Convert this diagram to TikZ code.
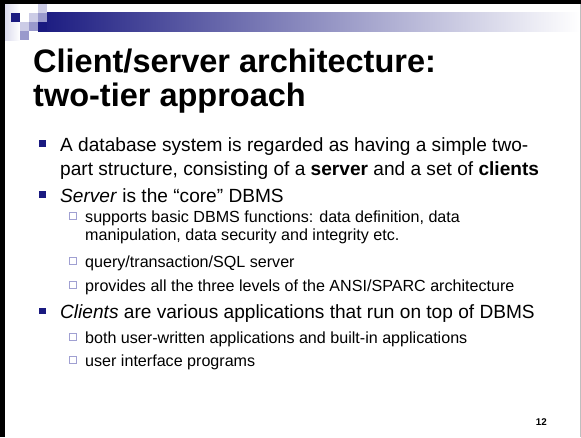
\documentclass[tikz,border=0pt]{standalone}
\usepackage{fontspec}
\setmainfont{Liberation Sans}
\definecolor{navy}{RGB}{26,26,128}
\definecolor{lav}{RGB}{204,204,230}
\definecolor{midlav}{RGB}{153,153,204}
\definecolor{bulletlav}{RGB}{160,160,210}
\tikzset{
  titletext/.style={anchor=base west, inner sep=0pt, font=\bfseries\fontsize{32.5}{34}\selectfont},
  lvlone/.style={anchor=base west, inner sep=0pt, font=\fontsize{19.1}{23}\selectfont},
  lvltwo/.style={anchor=base west, inner sep=0pt, font=\fontsize{16.1}{19}\selectfont},
  solidsq/.style={draw=none, fill=navy, minimum size=6.5pt, inner sep=0pt},
  hollowsq/.style={draw=bulletlav, line width=0.8pt, fill=white, minimum size=7pt, inner sep=0pt}
}
\begin{document}
\begin{tikzpicture}[x=1pt,y=-1pt]
\useasboundingbox (0,0) rectangle (581,437);
\fill[white] (0,0) rectangle (581,437);

% header band: pale strip, gradient bar and tiles
\shade[left color=lav!70, right color=white] (5,4) rectangle (20,40);
\shade[left color=navy, right color=white] (38,12.5) rectangle (580,31);
\fill[lav]    (38,4)    rectangle (47,12.5);
\fill[navy]   (11,12.5) rectangle (20,22);
\fill[white]  (20,12.5) rectangle (29,22);
\fill[lav]    (29,12.5) rectangle (38,22);
\fill[midlav] (38,12.5) rectangle (47,22);
\fill[lav]    (20,22)   rectangle (29,31);
\fill[midlav] (29,22)   rectangle (38,31);
\fill[navy]   (38,22)   rectangle (47,31);
\fill[midlav] (20,31)   rectangle (29,39.5);

% frame
\fill[black] (0,0) rectangle (581,4);
\fill[black] (0,0) rectangle (5,437);
\fill[black!25] (580,4) rectangle (581,437);

% title
\node[titletext] (title1) at (33,72) {Client/server architecture:};
\node[titletext] (title2) at (33,106) {two-tier approach};

% first level items
\node[solidsq] (m1) at (42.5,143.5) {};
\node[lvlone] (t1a) at (60,151) {A database system is regarded as having a simple two-};
\node[lvlone] (t1b) at (60,175) {part structure, consisting of a \textbf{server} and a set of \textbf{clients}};

\node[solidsq] (m2) at (42.5,194.5) {};
\node[lvlone] (t2) at (60,202) {\textit{Server} is the “core” DBMS};

\node[hollowsq] (n1) at (72.5,216) {};
\node[lvltwo] (u1a) at (85,222) {supports basic DBMS functions: data definition, data};
\node[lvltwo] (u1b) at (85,240) {manipulation, data security and integrity etc.};

\node[hollowsq] (n2) at (72.5,261) {};
\node[lvltwo] (u2) at (85,267) {query/transaction/SQL server};

\node[hollowsq] (n3) at (72.5,285) {};
\node[lvltwo] (u3) at (85,291) {provides all the three levels of the ANSI/SPARC architecture};

\node[solidsq] (m3) at (42.5,311) {};
\node[lvlone] (t3) at (60,318.5) {\textit{Clients} are various applications that run on top of DBMS};

\node[hollowsq] (n4) at (72.5,337) {};
\node[lvltwo] (u4) at (85,343) {both user-written applications and built-in applications};

\node[hollowsq] (n5) at (72.5,360) {};
\node[lvltwo] (u5) at (85,366) {user interface programs};

% page number
\node[anchor=base east, inner sep=0pt, font=\bfseries\fontsize{9.8}{11}\selectfont] (pageno) at (547,425) {12};
\end{tikzpicture}
\end{document}
